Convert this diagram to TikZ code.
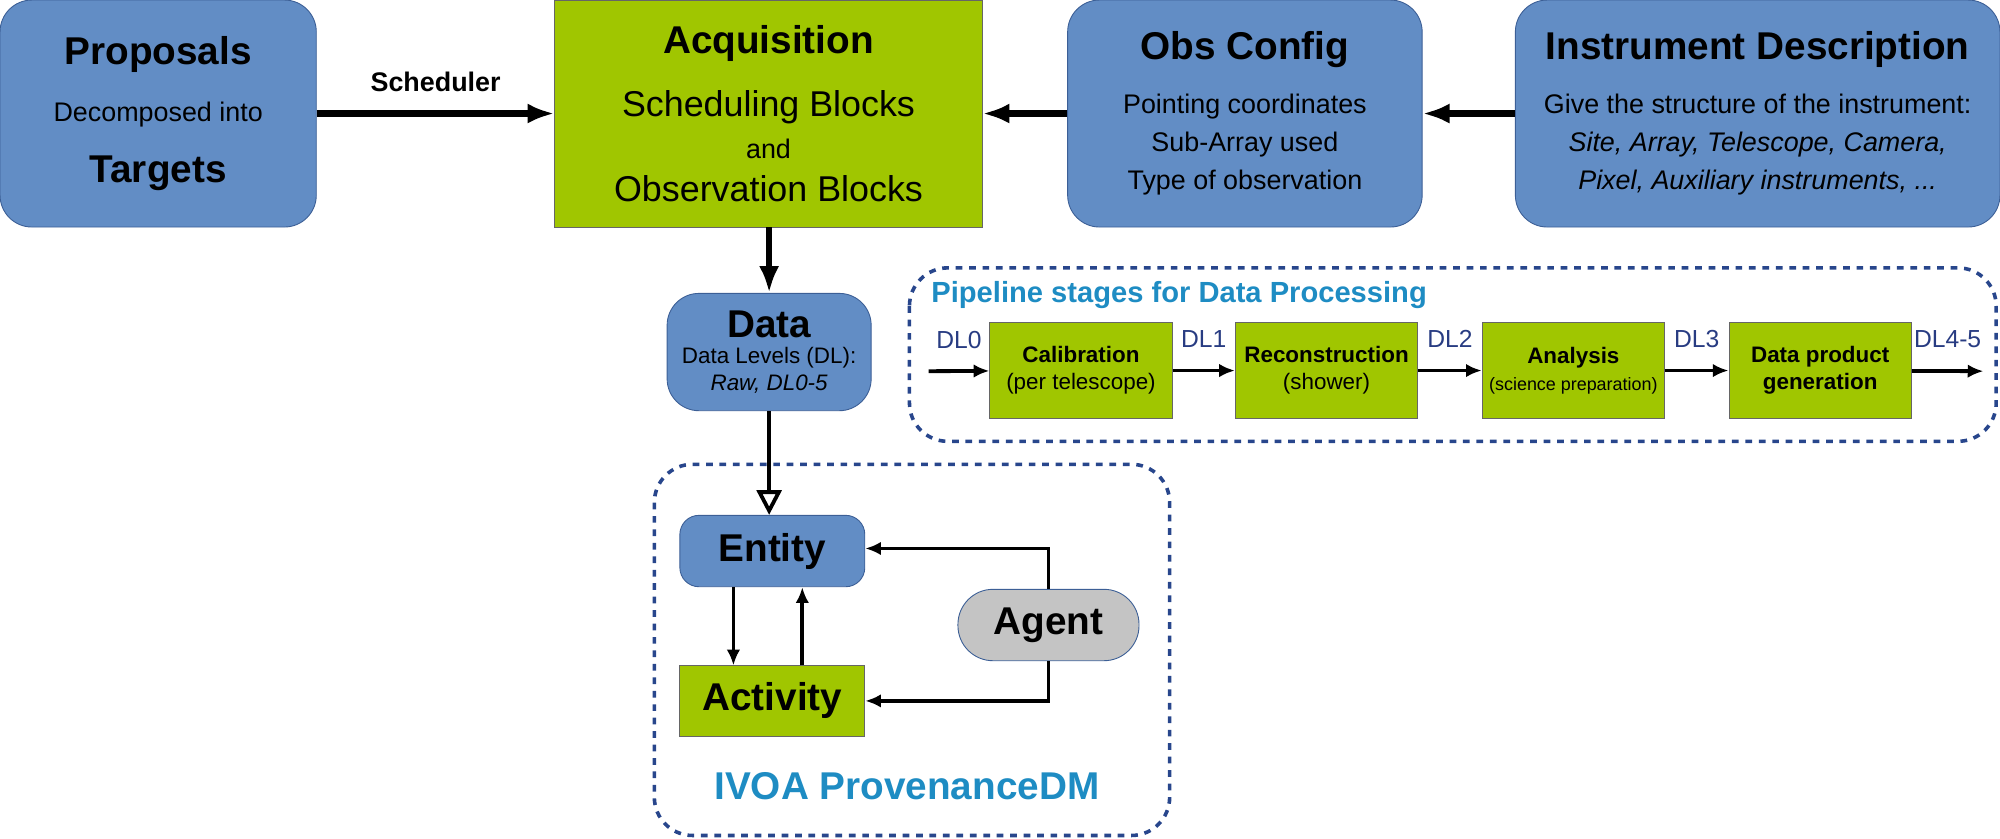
\documentclass[tikz,border=0pt]{standalone}
\usepackage{fontspec}
\setmainfont{Liberation Sans}
\usetikzlibrary{arrows.meta}
\definecolor{myblue}{RGB}{98,141,197}
\definecolor{myblueline}{RGB}{60,95,150}
\definecolor{mygreen}{RGB}{160,198,0}
\definecolor{mygray}{RGB}{196,196,196}
\definecolor{mytitle}{RGB}{30,140,195}
\definecolor{mydash}{RGB}{40,70,140}
\definecolor{mydl}{RGB}{40,60,130}

\begin{document}
\begin{tikzpicture}[x=0.02cm, y=-0.02cm,
    bluebox/.style={draw=myblueline, fill=myblue, rounded corners=0.5cm, align=center, inner sep=0pt},
    greenbox/.style={draw=black!60, fill=mygreen, align=center, inner sep=0pt},
    agentbox/.style={draw=myblueline, fill=mygray, rounded corners=0.55cm, align=center, inner sep=0pt},
    bigarrow/.style={line width=2.8pt, -{Latex[length=12pt,width=9pt]}},
    smallarrow/.style={line width=1.7pt, -{Latex[length=7pt,width=6pt]}},
    groupbox/.style={draw=mydash, dashed, line width=1.6pt, rounded corners=0.6cm},
    dllabel/.style={text=mydl, font=\fontsize{11}{13}\selectfont}]
  \useasboundingbox (0,0) rectangle (1568,657);

  % top row
  \node[bluebox, minimum width=4.96cm, minimum height=3.56cm] (prop) at (124,89)
    {{\LARGE\bfseries Proposals}\\[12pt] {\large Decomposed into}\\[12pt] {\LARGE\bfseries Targets}};
  \node[greenbox, minimum width=6.7cm, minimum height=3.56cm, font=\fontsize{16}{18}\selectfont] (acq) at (602.5,89)
    {{\LARGE\bfseries Acquisition}\\[10pt] Scheduling Blocks\\[1pt] {\large and}\\[1pt] Observation Blocks};
  \node[bluebox, minimum width=5.56cm, minimum height=3.56cm, font=\large] (obs) at (976,89)
    {{\LARGE\bfseries Obs Config}\\[10pt] Pointing coordinates\\[3pt] Sub-Array used\\[3pt] Type of observation};
  \node[bluebox, minimum width=7.6cm, minimum height=3.56cm, font=\large] (inst) at (1378,89)
    {{\LARGE\bfseries Instrument Description}\\[10pt] Give the structure of the instrument:\\[3pt]
     \itshape Site, Array, Telescope, Camera,\\[3pt] \itshape Pixel, Auxiliary instruments, ...};

  \draw[bigarrow] (prop) -- node[above=5pt, font=\large\bfseries] {Scheduler} (acq);
  \draw[bigarrow] (obs) -- (acq);
  \draw[bigarrow] (inst) -- (obs);

  % data
  \node[bluebox, minimum width=3.2cm, minimum height=1.84cm] (data) at (603,276)
    {{\LARGE\bfseries Data}\\ Data Levels (DL):\\ \itshape Raw, DL0-5};
  \draw[bigarrow] (acq.south -| data) -- (data);

  % provenance
  \draw[groupbox] (513,364) rectangle (917,655);
  \node[font=\LARGE\bfseries, text=mytitle] (provtitle) at (711,616) {IVOA ProvenanceDM};
  \node[bluebox, rounded corners=0.3cm, minimum width=2.9cm, minimum height=1.12cm] (entity) at (605.5,432)
    {\LARGE\bfseries Entity};
  \node[greenbox, minimum width=2.9cm, minimum height=1.1cm] (activity) at (605.5,549.5)
    {\LARGE\bfseries Activity};
  \node[agentbox, minimum width=2.84cm, minimum height=1.12cm] (agent) at (822,490)
    {\LARGE\bfseries Agent};

  \draw[line width=1.7pt, -{Triangle[open,length=11pt,width=11pt]}] (data) -- (entity.north -| data);
  \draw[smallarrow] (entity.south -| 575,0) -- (activity.north -| 575,0);
  \draw[smallarrow] (activity.north -| 629,0) -- (entity.south -| 629,0);
  \draw[smallarrow] (agent.north) |- (entity.east |- 0,430);
  \draw[smallarrow] (agent.south) |- (activity.east);

  % pipeline
  \draw[groupbox] (713,210) rectangle (1565,346);
  \node[anchor=west, font=\fontsize{13}{15}\selectfont\bfseries, text=mytitle] (pipetitle) at (724,231)
    {Pipeline stages for Data Processing};
  \coordinate (pipein) at (728,291);
  \coordinate (pipeout) at (1555,291);
  \node[greenbox, minimum width=2.86cm, minimum height=1.5cm] (calib) at (847.5,290.5)
    {\bfseries Calibration\\ (per telescope)};
  \node[greenbox, minimum width=2.86cm, minimum height=1.5cm] (reco) at (1040,290.5)
    {\bfseries Reconstruction\\ (shower)};
  \node[greenbox, minimum width=2.86cm, minimum height=1.5cm] (ana) at (1233.5,290.5)
    {\bfseries Analysis\\ \footnotesize (science preparation)};
  \node[greenbox, minimum width=2.86cm, minimum height=1.5cm] (prod) at (1427,290.5)
    {\bfseries Data product\\ \bfseries generation};

  \draw[smallarrow] (pipein) -- node[dllabel, above=6pt] {DL0} (calib);
  \draw[smallarrow] (calib) -- node[dllabel, above=6pt] {DL1} (reco);
  \draw[smallarrow] (reco) -- node[dllabel, above=6pt] {DL2} (ana);
  \draw[smallarrow] (ana) -- node[dllabel, above=6pt] {DL3} (prod);
  \draw[smallarrow] (prod) -- node[dllabel, above=6pt] {DL4-5} (pipeout);
\end{tikzpicture}
\end{document}
